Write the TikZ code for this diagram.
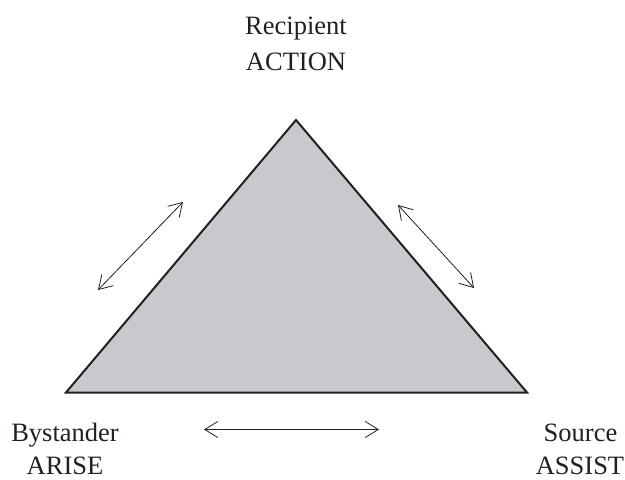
\documentclass[tikz,border=0pt]{standalone}
\usepackage{fontspec}
\setmainfont{Liberation Serif}
\usetikzlibrary{arrows.meta}
\definecolor{trifill}{RGB}{200,201,204}
\definecolor{ink}{RGB}{35,31,32}
\tikzset{
  lbl/.style={anchor=base, inner sep=0pt, text=ink, font=\fontsize{26.5bp}{30bp}\selectfont},
  tri/.style={draw=ink, fill=trifill, line width=2bp, line join=miter},
  dbl/.style={draw=ink, line width=0.8bp, {Straight Barb[length=13bp,width=16bp,line width=0.8bp]}-{Straight Barb[length=13bp,width=16bp,line width=0.8bp]}}
}
\begin{document}
\begin{tikzpicture}[x=1bp,y=-1bp]
\useasboundingbox (0,0) rectangle (625,480);
\coordinate (A) at (296,120);
\coordinate (B) at (66,392.5);
\coordinate (C) at (527,392.5);
\draw[tri] (A) -- (C) -- (B) -- cycle;
\coordinate (l1) at (98,290);
\coordinate (l2) at (183,202);
\coordinate (r1) at (398,205);
\coordinate (r2) at (474,288);
\coordinate (b1) at (204,429.5);
\coordinate (b2) at (379,429.5);
\draw[dbl] (l1) -- (l2);
\draw[dbl] (r1) -- (r2);
\draw[dbl] (b1) -- (b2);
\node[lbl] (rec) at (296,35) {Recipient};
\node[lbl] (act) at (296,71) {ACTION};
\node[lbl] (bys) at (65,441) {Bystander};
\node[lbl] (ari) at (65,474.5) {ARISE};
\node[lbl] (src) at (580.5,441) {Source};
\node[lbl] (ass) at (580,474.5) {ASSIST};
\end{tikzpicture}
\end{document}
